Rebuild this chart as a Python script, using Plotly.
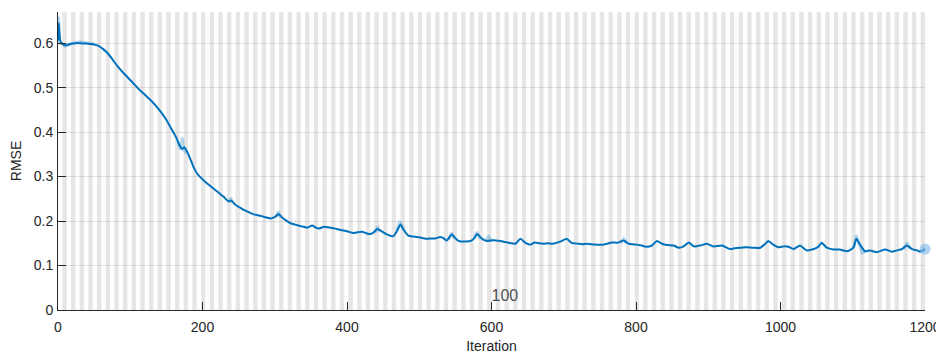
import plotly.graph_objects as go

# Smoothed RMSE (dark blue line)
smooth_iter = [0,1,3,6,10,15,20,25,30,35,40,45,50,56,63,70,76,82,90,100,107,114,121,128,135,142,149,156,163,169,172,175,179,183,188,192,198,204,210,216,222,229,236,240,245,251,257,264,271,277,282,288,294,301,305,310,316,322,328,335,340,345,352,356,361,368,377,384,391,400,409,415,421,426,430,436,442,448,455,464,469,474,478,485,491,497,504,511,517,522,529,534,538,545,552,557,564,571,576,580,587,594,603,612,618,624,633,640,647,654,660,666,672,678,684,690,697,704,711,720,726,732,743,755,767,774,783,790,801,808,815,822,829,836,843,852,859,866,873,880,889,898,907,919,930,937,944,952,962,972,979,983,990,997,1004,1011,1018,1027,1036,1046,1052,1057,1064,1073,1082,1092,1101,1105,1110,1117,1124,1133,1145,1154,1161,1168,1175,1182,1189,1193,1200]
smooth_rmse = [0.606,0.645,0.606,0.598,0.595,0.597,0.599,0.600,0.600,0.599,0.599,0.598,0.597,0.594,0.586,0.575,0.562,0.549,0.534,0.517,0.505,0.493,0.483,0.472,0.460,0.446,0.430,0.410,0.390,0.368,0.362,0.366,0.355,0.340,0.320,0.308,0.297,0.288,0.280,0.272,0.264,0.255,0.244,0.246,0.237,0.231,0.225,0.220,0.215,0.213,0.211,0.208,0.206,0.210,0.216,0.208,0.201,0.195,0.192,0.189,0.187,0.185,0.190,0.186,0.183,0.187,0.185,0.183,0.180,0.177,0.173,0.175,0.176,0.173,0.171,0.173,0.182,0.177,0.170,0.166,0.177,0.192,0.181,0.167,0.165,0.164,0.162,0.160,0.161,0.161,0.164,0.161,0.156,0.170,0.158,0.154,0.154,0.155,0.161,0.171,0.160,0.155,0.157,0.155,0.153,0.151,0.149,0.160,0.151,0.147,0.152,0.150,0.149,0.150,0.149,0.151,0.155,0.160,0.151,0.149,0.148,0.149,0.147,0.147,0.152,0.151,0.156,0.149,0.147,0.145,0.142,0.145,0.155,0.149,0.146,0.145,0.140,0.143,0.152,0.143,0.145,0.149,0.143,0.145,0.137,0.139,0.140,0.141,0.140,0.140,0.149,0.155,0.147,0.141,0.143,0.142,0.137,0.145,0.134,0.137,0.142,0.151,0.140,0.136,0.136,0.132,0.140,0.160,0.147,0.132,0.134,0.130,0.136,0.131,0.134,0.137,0.145,0.137,0.134,0.131,0.137]

# Raw RMSE (light blue, visible around spikes)
raw_iter = [0,1,2,5,10,20,30,40,50,None,166,170,172,174,178,None,236,239,242,None,302,305,308,None,439,442,445,None,469,473,476,480,None,541,545,549,None,576,580,584,None,592,596,600,None,779,783,787,None,1101,1105,1109,1113,1117,None,1171,1175,1179]
raw_rmse = [0.61,0.66,0.60,0.60,0.593,0.60,0.603,0.60,0.598,None,0.378,0.360,0.388,0.360,0.352,None,0.244,0.252,0.240,None,0.210,0.222,0.208,None,0.175,0.188,0.176,None,0.178,0.200,0.190,0.178,None,0.158,0.174,0.160,None,0.160,0.176,0.160,None,0.155,0.165,0.155,None,0.150,0.160,0.150,None,0.140,0.168,0.148,0.128,0.132,None,0.137,0.152,0.137]

final_iter = [1200]
final_rmse = [0.137]

epochs = list(range(1, 201))
iters_per_epoch = 6
epoch_label_iter = [600, 1200]
epoch_label_text = ["100", "200"]

x_ticks = [0, 200, 400, 600, 800, 1000, 1200]
y_ticks = [0, 0.1, 0.2, 0.3, 0.4, 0.5, 0.6]
y_ticktext = ["0", "0.1", "0.2", "0.3", "0.4", "0.5", "0.6"]

FONT = "Liberation Sans, Arial, Helvetica, sans-serif"
AX = "#262626"

fig = go.Figure()

fig.add_trace(go.Scatter(x=raw_iter, y=raw_rmse, mode="lines",
                         line=dict(color="rgba(0,114,189,0.28)", width=3),
                         connectgaps=False, hoverinfo="skip", showlegend=False))
fig.add_trace(go.Scatter(x=smooth_iter, y=smooth_rmse, mode="lines",
                         line=dict(color="#0072BD", width=2, shape="spline", smoothing=0.5),
                         showlegend=False))
fig.add_trace(go.Scatter(x=final_iter, y=final_rmse, mode="markers",
                         marker=dict(color="rgba(120,180,230,0.6)", size=11),
                         cliponaxis=False, showlegend=False))
fig.add_trace(go.Scatter(x=epoch_label_iter, y=[0.012, 0.012], mode="text",
                         text=epoch_label_text, textposition="top right",
                         textfont=dict(family=FONT, size=16, color="#505050"),
                         cliponaxis=True, showlegend=False, hoverinfo="skip"))

shapes = []
for e in epochs:
    if e % 2 == 0:
        shapes.append(dict(type="rect", xref="x", yref="paper",
                           x0=(e - 1) * iters_per_epoch, x1=e * iters_per_epoch,
                           y0=0, y1=1, fillcolor="#e6e6e6", line=dict(width=0),
                           layer="below"))

# page body has an 8px default margin: size the figure to fill the rest
fig.update_layout(
    width=936, height=346,
    margin=dict(l=49.5, r=19, t=4, b=44),
    paper_bgcolor="white", plot_bgcolor="white",
    font=dict(family=FONT, size=14, color=AX),
    shapes=shapes,
    showlegend=False,
)
fig.update_xaxes(range=[0, 1200], tickvals=x_ticks, ticks="inside", ticklen=8,
                 tickcolor=AX, showline=True, linecolor=AX, linewidth=1,
                 showgrid=False, zeroline=False, automargin=False,
                 tickfont=dict(size=14, color=AX), ticklabelstandoff=4,
                 title=dict(text="Iteration", font=dict(size=14, color=AX), standoff=7))
fig.update_yaxes(range=[0, 0.67], tickvals=y_ticks, ticktext=y_ticktext,
                 ticks="inside", ticklen=8, tickcolor=AX,
                 showline=True, linecolor=AX, linewidth=1,
                 showgrid=True, gridcolor="rgba(38,38,38,0.13)", gridwidth=1,
                 zeroline=False, automargin=False,
                 tickfont=dict(size=14, color=AX), ticklabelstandoff=1,
                 title=dict(text="RMSE", font=dict(size=14, color=AX), standoff=8))

fig.write_html("out.html")
